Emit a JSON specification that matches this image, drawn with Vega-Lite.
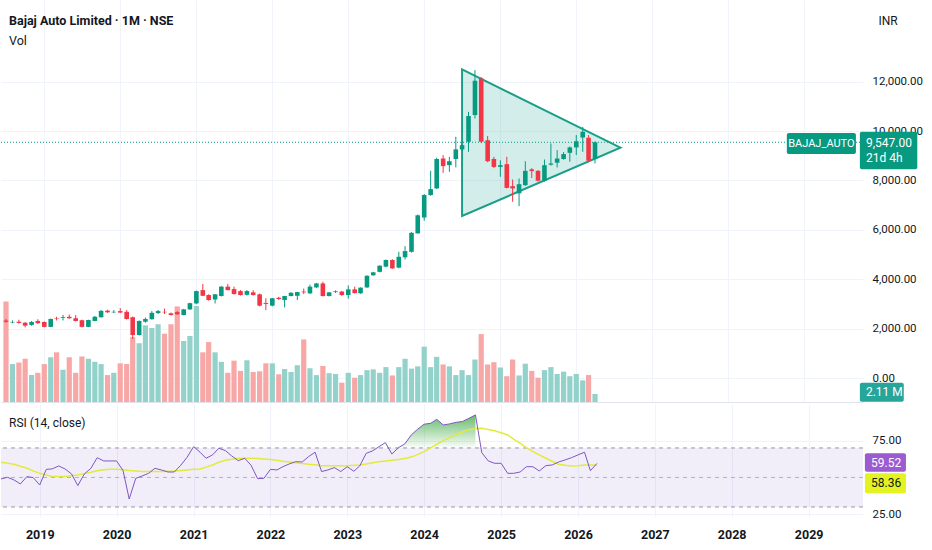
{
"$schema":"https://vega.github.io/schema/vega-lite/v6.json",
"padding":0,
"background":"#ffffff",
"spacing":2,
"datasets":{
"bars":[
{"d":"2018-07-01","o":2330,"h":2390,"l":2230,"c":2280,"v":26.5,"rsi":49.0,"ma":60.3},
{"d":"2018-08-01","o":2250,"h":2330,"l":2220,"c":2270,"v":10.0,"rsi":50.1,"ma":59.6},
{"d":"2018-09-01","o":2280,"h":2360,"l":2200,"c":2230,"v":10.4,"rsi":48.3,"ma":58.9},
{"d":"2018-10-01","o":2240,"h":2260,"l":2050,"c":2120,"v":11.4,"rsi":45.6,"ma":57.6},
{"d":"2018-11-01","o":2150,"h":2310,"l":2120,"c":2270,"v":7.1,"rsi":50.6,"ma":56.2},
{"d":"2018-12-01","o":2310,"h":2380,"l":2190,"c":2220,"v":7.7,"rsi":49.9,"ma":54.5},
{"d":"2019-01-01","o":2270,"h":2290,"l":2050,"c":2070,"v":10.0,"rsi":44.9,"ma":52.8},
{"d":"2019-02-01","o":2070,"h":2410,"l":2060,"c":2390,"v":11.8,"rsi":55.5,"ma":51.7},
{"d":"2019-03-01","o":2420,"h":2480,"l":2330,"c":2400,"v":13.1,"rsi":55.8,"ma":50.6},
{"d":"2019-04-01","o":2430,"h":2550,"l":2330,"c":2460,"v":8.5,"rsi":57.8,"ma":50.6},
{"d":"2019-05-01","o":2480,"h":2570,"l":2400,"c":2420,"v":11.8,"rsi":55.8,"ma":50.6},
{"d":"2019-06-01","o":2420,"h":2550,"l":2290,"c":2310,"v":7.7,"rsi":52.4,"ma":51.1},
{"d":"2019-07-01","o":2340,"h":2360,"l":2050,"c":2070,"v":12.0,"rsi":44.5,"ma":51.7},
{"d":"2019-08-01","o":2070,"h":2360,"l":2060,"c":2350,"v":11.4,"rsi":52.4,"ma":52.6},
{"d":"2019-09-01","o":2310,"h":2510,"l":2300,"c":2480,"v":10.6,"rsi":56.2,"ma":53.5},
{"d":"2019-10-01","o":2460,"h":2750,"l":2450,"c":2720,"v":10.0,"rsi":63.4,"ma":54.5},
{"d":"2019-11-01","o":2730,"h":2760,"l":2640,"c":2660,"v":7.1,"rsi":61.2,"ma":55.3},
{"d":"2019-12-01","o":2660,"h":2750,"l":2630,"c":2680,"v":7.7,"rsi":61.2,"ma":55.5},
{"d":"2020-01-01","o":2710,"h":2830,"l":2630,"c":2650,"v":10.2,"rsi":61.2,"ma":55.5},
{"d":"2020-02-01","o":2680,"h":2750,"l":2370,"c":2390,"v":10.0,"rsi":54.6,"ma":55.3},
{"d":"2020-03-01","o":2460,"h":2490,"l":1580,"c":1740,"v":17.1,"rsi":35.4,"ma":54.8},
{"d":"2020-04-01","o":1740,"h":2330,"l":1720,"c":2310,"v":15.5,"rsi":49.4,"ma":54.4},
{"d":"2020-05-01","o":2280,"h":2450,"l":2240,"c":2390,"v":20.2,"rsi":51.0,"ma":54.1},
{"d":"2020-06-01","o":2380,"h":2710,"l":2370,"c":2640,"v":19.5,"rsi":52.8,"ma":54.0},
{"d":"2020-07-01","o":2630,"h":2760,"l":2590,"c":2710,"v":20.5,"rsi":56.2,"ma":54.0},
{"d":"2020-08-01","o":2680,"h":2810,"l":2590,"c":2660,"v":18.0,"rsi":55.1,"ma":54.0},
{"d":"2020-09-01","o":2620,"h":2650,"l":2530,"c":2550,"v":20.5,"rsi":53.7,"ma":54.2},
{"d":"2020-10-01","o":2670,"h":2710,"l":2560,"c":2580,"v":25.2,"rsi":53.7,"ma":54.4},
{"d":"2020-11-01","o":2550,"h":2800,"l":2540,"c":2780,"v":16.1,"rsi":58.3,"ma":54.8},
{"d":"2020-12-01","o":2780,"h":3050,"l":2760,"c":3030,"v":17.4,"rsi":63.7,"ma":55.1},
{"d":"2021-01-01","o":3020,"h":3540,"l":2990,"c":3520,"v":25.3,"rsi":70.9,"ma":55.5},
{"d":"2021-02-01","o":3560,"h":3810,"l":3320,"c":3330,"v":13.1,"rsi":67.1,"ma":55.8},
{"d":"2021-03-01","o":3360,"h":3390,"l":3130,"c":3160,"v":15.8,"rsi":63.0,"ma":57.0},
{"d":"2021-04-01","o":3180,"h":3400,"l":3020,"c":3390,"v":13.1,"rsi":65.3,"ma":58.5},
{"d":"2021-05-01","o":3320,"h":3720,"l":3300,"c":3700,"v":10.6,"rsi":69.8,"ma":60.3},
{"d":"2021-06-01","o":3700,"h":3810,"l":3550,"c":3560,"v":7.7,"rsi":68.2,"ma":61.7},
{"d":"2021-07-01","o":3600,"h":3700,"l":3380,"c":3400,"v":10.9,"rsi":64.6,"ma":62.4},
{"d":"2021-08-01","o":3520,"h":3560,"l":3340,"c":3360,"v":8.2,"rsi":61.4,"ma":63.0},
{"d":"2021-09-01","o":3370,"h":3560,"l":3340,"c":3520,"v":11.0,"rsi":63.0,"ma":63.0},
{"d":"2021-10-01","o":3470,"h":3560,"l":3340,"c":3360,"v":7.9,"rsi":58.3,"ma":63.0},
{"d":"2021-11-01","o":3390,"h":3420,"l":2900,"c":2930,"v":8.1,"rsi":49.2,"ma":62.9},
{"d":"2021-12-01","o":3040,"h":3230,"l":2750,"c":3000,"v":10.2,"rsi":49.4,"ma":62.6},
{"d":"2022-01-01","o":2930,"h":3240,"l":2900,"c":3230,"v":10.2,"rsi":55.5,"ma":62.2},
{"d":"2022-02-01","o":3250,"h":3290,"l":3160,"c":3200,"v":7.3,"rsi":55.1,"ma":61.6},
{"d":"2022-03-01","o":3160,"h":3330,"l":2860,"c":3320,"v":8.7,"rsi":57.3,"ma":61.0},
{"d":"2022-04-01","o":3320,"h":3480,"l":3300,"c":3450,"v":7.9,"rsi":59.2,"ma":60.5},
{"d":"2022-05-01","o":3330,"h":3490,"l":3160,"c":3480,"v":9.7,"rsi":60.7,"ma":60.0},
{"d":"2022-06-01","o":3500,"h":3620,"l":3400,"c":3470,"v":16.5,"rsi":60.5,"ma":59.5},
{"d":"2022-07-01","o":3430,"h":3780,"l":3400,"c":3700,"v":8.9,"rsi":64.1,"ma":59.0},
{"d":"2022-08-01","o":3670,"h":3850,"l":3640,"c":3830,"v":7.1,"rsi":67.1,"ma":58.6},
{"d":"2022-09-01","o":3830,"h":3900,"l":3300,"c":3320,"v":9.5,"rsi":54.0,"ma":58.0},
{"d":"2022-10-01","o":3320,"h":3480,"l":3300,"c":3470,"v":7.6,"rsi":55.1,"ma":58.0},
{"d":"2022-11-01","o":3480,"h":3550,"l":3440,"c":3510,"v":7.4,"rsi":56.7,"ma":58.0},
{"d":"2022-12-01","o":3500,"h":3530,"l":3330,"c":3360,"v":5.1,"rsi":54.0,"ma":58.0},
{"d":"2023-01-01","o":3360,"h":3750,"l":3210,"c":3590,"v":7.7,"rsi":57.3,"ma":58.0},
{"d":"2023-02-01","o":3590,"h":3700,"l":3420,"c":3440,"v":6.4,"rsi":54.2,"ma":58.2},
{"d":"2023-03-01","o":3430,"h":3670,"l":3410,"c":3660,"v":7.1,"rsi":57.8,"ma":58.5},
{"d":"2023-04-01","o":3670,"h":4160,"l":3650,"c":4140,"v":8.4,"rsi":66.4,"ma":59.2},
{"d":"2023-05-01","o":4160,"h":4300,"l":4140,"c":4280,"v":8.6,"rsi":68.0,"ma":60.0},
{"d":"2023-06-01","o":4300,"h":4560,"l":4280,"c":4550,"v":7.7,"rsi":70.9,"ma":60.6},
{"d":"2023-07-01","o":4510,"h":4800,"l":4480,"c":4780,"v":9.2,"rsi":73.6,"ma":61.2},
{"d":"2023-08-01","o":4780,"h":4810,"l":4420,"c":4440,"v":7.0,"rsi":65.9,"ma":61.7},
{"d":"2023-09-01","o":4470,"h":5110,"l":4440,"c":4910,"v":9.2,"rsi":70.2,"ma":62.2,"ob":70.2},
{"d":"2023-10-01","o":4890,"h":5340,"l":4800,"c":5140,"v":11.4,"rsi":72.7,"ma":62.9,"ob":72.7},
{"d":"2023-11-01","o":5110,"h":5910,"l":5080,"c":5880,"v":8.8,"rsi":78.8,"ma":63.8,"ob":78.8},
{"d":"2023-12-01","o":5860,"h":6620,"l":5840,"c":6590,"v":9.4,"rsi":82.7,"ma":65.5,"ob":82.7},
{"d":"2024-01-01","o":6500,"h":7450,"l":6370,"c":7410,"v":14.6,"rsi":86.1,"ma":67.5,"ob":86.1},
{"d":"2024-02-01","o":7410,"h":8390,"l":7380,"c":7650,"v":9.2,"rsi":86.7,"ma":70.0,"ob":86.7},
{"d":"2024-03-01","o":7680,"h":8920,"l":7650,"c":8870,"v":11.9,"rsi":89.4,"ma":72.5,"ob":89.4},
{"d":"2024-04-01","o":8890,"h":9030,"l":8310,"c":8580,"v":9.9,"rsi":85.6,"ma":75.0,"ob":85.6},
{"d":"2024-05-01","o":8620,"h":8960,"l":8350,"c":8780,"v":9.4,"rsi":86.3,"ma":77.0,"ob":86.3},
{"d":"2024-06-01","o":8870,"h":9770,"l":8530,"c":9260,"v":7.1,"rsi":87.4,"ma":79.0,"ob":87.4},
{"d":"2024-07-01","o":9260,"h":9480,"l":9200,"c":9430,"v":8.4,"rsi":87.9,"ma":80.8,"ob":87.9},
{"d":"2024-08-01","o":9570,"h":10780,"l":9160,"c":10610,"v":7.1,"rsi":90.1,"ma":82.4,"ob":90.1},
{"d":"2024-09-01","o":10650,"h":12470,"l":10510,"c":12040,"v":11.2,"rsi":92.4,"ma":83.2,"ob":92.4},
{"d":"2024-10-01","o":12130,"h":12190,"l":9510,"c":9570,"v":17.9,"rsi":66.8,"ma":83.3},
{"d":"2024-11-01","o":9630,"h":9800,"l":8740,"c":8780,"v":9.9,"rsi":61.2,"ma":82.5},
{"d":"2024-12-01","o":8870,"h":8960,"l":8500,"c":8550,"v":10.5,"rsi":59.6,"ma":81.6},
{"d":"2025-01-01","o":8550,"h":8820,"l":8150,"c":8620,"v":9.1,"rsi":59.6,"ma":80.3},
{"d":"2025-02-01","o":8660,"h":8960,"l":7680,"c":7700,"v":6.8,"rsi":52.8,"ma":78.8},
{"d":"2025-03-01","o":7770,"h":8040,"l":7140,"c":7680,"v":11.2,"rsi":52.8,"ma":76.0},
{"d":"2025-04-01","o":7480,"h":8080,"l":6960,"c":7850,"v":7.0,"rsi":53.7,"ma":73.2},
{"d":"2025-05-01","o":7810,"h":8780,"l":7780,"c":8390,"v":10.1,"rsi":57.3,"ma":70.3},
{"d":"2025-06-01","o":8450,"h":8500,"l":8100,"c":8380,"v":8.2,"rsi":57.3,"ma":67.5},
{"d":"2025-07-01","o":8390,"h":8420,"l":7950,"c":7990,"v":6.4,"rsi":54.4,"ma":65.3},
{"d":"2025-08-01","o":7990,"h":8850,"l":7960,"c":8620,"v":8.4,"rsi":58.0,"ma":63.0},
{"d":"2025-09-01","o":8640,"h":9500,"l":8600,"c":8690,"v":9.2,"rsi":58.5,"ma":61.0},
{"d":"2025-10-01","o":8720,"h":9230,"l":8530,"c":8890,"v":7.4,"rsi":60.5,"ma":59.0},
{"d":"2025-11-01","o":8870,"h":9150,"l":8840,"c":9070,"v":8.0,"rsi":61.9,"ma":58.3},
{"d":"2025-12-01","o":9120,"h":9380,"l":8760,"c":9340,"v":6.8,"rsi":63.4,"ma":57.8},
{"d":"2026-01-01","o":9340,"h":9840,"l":9030,"c":9590,"v":7.4,"rsi":65.3,"ma":58.0},
{"d":"2026-02-01","o":9740,"h":10170,"l":9160,"c":9970,"v":5.7,"rsi":67.1,"ma":58.5},
{"d":"2026-03-01","o":9730,"h":9840,"l":8760,"c":8800,"v":7.1,"rsi":54.6,"ma":58.5},
{"d":"2026-04-01","o":8870,"h":9580,"l":8690,"c":9547,"v":2.11,"rsi":59.52,"ma":58.36}
],
"tri":[{"d":"2024-07-01","top":12500,"bot":6560},{"d":"2026-08-01","top":9330,"bot":9330}],
"one":[{}]
},
"vconcat":[
{
"width":862,"height":402,
"title":{"text":"Bajaj Auto Limited · 1M · NSE","subtitle":"Vol","anchor":"start","frame":"group","offset":-47,"dx":8,"fontSize":12.5,"fontWeight":"bold","color":"#131722","subtitleFontSize":12.5,"subtitleColor":"#131722","subtitlePadding":7,"font":"Roboto","subtitleFont":"Roboto"},
"layer":[
{"data":{"name":"bars"},
"mark":{"type":"bar","width":5.2,"clip":true},
"encoding":{
"x":{"field":"d","type":"temporal","scale":{"type":"utc","domain":[{"year":2018,"month":7,"date":1,"utc":true},{"year":2029,"month":9,"date":16,"utc":true}]},
"axis":{"labels":false,"ticks":false,"domain":true,"domainColor":"#e0e3eb","grid":true,"gridColor":"#f0f3fa","title":null,
"values":[{"year":2019,"month":1,"date":1,"utc":true},{"year":2020,"month":1,"date":1,"utc":true},{"year":2021,"month":1,"date":1,"utc":true},{"year":2022,"month":1,"date":1,"utc":true},{"year":2023,"month":1,"date":1,"utc":true},{"year":2024,"month":1,"date":1,"utc":true},{"year":2025,"month":1,"date":1,"utc":true},{"year":2026,"month":1,"date":1,"utc":true},{"year":2027,"month":1,"date":1,"utc":true},{"year":2028,"month":1,"date":1,"utc":true},{"year":2029,"month":1,"date":1,"utc":true}]}},
"y":{"field":"v","type":"quantitative","scale":{"domain":[0,106],"nice":false},"axis":null},
"color":{"condition":{"test":"datum.c >= datum.o","value":"#93d2ca"},"value":"#f7a7a5"}
}},
{"layer":[
{"data":{"name":"tri"},
"mark":{"type":"area","fill":"#22ab94","fillOpacity":0.2,"stroke":"#1a9e87","strokeWidth":2},
"encoding":{
"x":{"field":"d","type":"temporal"},
"y":{"field":"top","type":"quantitative","scale":{"domain":[-972,15310],"nice":false,"zero":false},"axis":{"orient":"right","values":[0,2000,4000,6000,8000,10000,12000],"format":",.2f","grid":true,"gridColor":"#f0f3fa","domain":false,"ticks":false,"labelPadding":9,"minExtent":70,"maxExtent":70,"title":"INR","titleAngle":0,"titleAlign":"left","titleBaseline":"alphabetic","titleX":15,"titleY":24,"titleFontWeight":"normal","titleFontSize":12,"titleColor":"#131722","titleFont":"Roboto"}},
"y2":{"field":"bot"}
}},
{"data":{"name":"one"},
"mark":{"type":"rule","color":"#089981","strokeDash":[1,2],"strokeWidth":1},
"encoding":{"y":{"datum":9547,"type":"quantitative","scale":{"domain":[-972,15310],"nice":false,"zero":false}}}},
{"data":{"name":"bars"},
"mark":{"type":"rule","strokeWidth":1,"clip":true},
"encoding":{
"x":{"field":"d","type":"temporal"},
"y":{"field":"l","type":"quantitative","scale":{"domain":[-972,15310],"nice":false,"zero":false}},
"y2":{"field":"h"},
"color":{"condition":{"test":"datum.c >= datum.o","value":"#089981"},"value":"#f23645"}
}},
{"data":{"name":"bars"},
"mark":{"type":"bar","width":4.6,"clip":true},
"encoding":{
"x":{"field":"d","type":"temporal"},
"y":{"field":"o","type":"quantitative","scale":{"domain":[-972,15310],"nice":false,"zero":false}},
"y2":{"field":"c"},
"color":{"condition":{"test":"datum.c >= datum.o","value":"#089981"},"value":"#f23645"}
}},
{"data":{"name":"one"},
"mark":{"type":"rect","color":"#089981","cornerRadius":2,"clip":false},
"encoding":{
"x":{"datum":{"year":2028,"month":10,"date":9,"utc":true},"type":"temporal"},
"x2":{"datum":{"year":2029,"month":9,"date":6,"utc":true}},
"y":{"datum":9919,"type":"quantitative"},
"y2":{"datum":9069}
}},
{"data":{"name":"one"},
"mark":{"type":"text","text":"BAJAJ_AUTO","color":"#ffffff","align":"center","baseline":"middle","fontSize":11,"font":"Roboto","clip":false},
"encoding":{
"x":{"datum":{"year":2029,"month":3,"date":24,"utc":true},"type":"temporal"},
"y":{"datum":9494,"type":"quantitative"}
}},
{"data":{"name":"one"},
"mark":{"type":"rect","color":"#089981","cornerRadius":2,"clip":false},
"encoding":{
"x":{"datum":{"year":2029,"month":9,"date":25,"utc":true},"type":"temporal"},
"x2":{"datum":{"year":2030,"month":6,"date":28,"utc":true}},
"y":{"datum":9972,"type":"quantitative"},
"y2":{"datum":8450}
}},
{"data":{"name":"one"},
"mark":{"type":"text","text":"9,547.00","color":"#ffffff","align":"left","baseline":"middle","fontSize":12,"font":"Roboto","clip":false},
"encoding":{
"x":{"datum":{"year":2029,"month":10,"date":24,"utc":true},"type":"temporal"},
"y":{"datum":9514,"type":"quantitative"}
}},
{"data":{"name":"one"},
"mark":{"type":"text","text":"21d 4h","color":"#ffffff","align":"left","baseline":"middle","fontSize":12,"font":"Roboto","clip":false},
"encoding":{
"x":{"datum":{"year":2029,"month":10,"date":24,"utc":true},"type":"temporal"},
"y":{"datum":8907,"type":"quantitative"}
}},
{"data":{"name":"one"},
"mark":{"type":"rect","color":"#26a69a","cornerRadius":2,"clip":false},
"encoding":{
"x":{"datum":{"year":2029,"month":9,"date":25,"utc":true},"type":"temporal"},
"x2":{"datum":{"year":2030,"month":4,"date":24,"utc":true}},
"y":{"datum":-190,"type":"quantitative"},
"y2":{"datum":-960}
}},
{"data":{"name":"one"},
"mark":{"type":"text","text":"2.11 M","color":"#ffffff","align":"left","baseline":"middle","fontSize":12,"font":"Roboto","clip":false},
"encoding":{
"x":{"datum":{"year":2029,"month":10,"date":24,"utc":true},"type":"temporal"},
"y":{"datum":-567,"type":"quantitative"}
}}
]}
],
"resolve":{"scale":{"y":"independent"}}
},
{
"width":862,"height":113,
"title":{"text":"RSI (14, close)","anchor":"start","frame":"group","offset":-26,"dx":8,"fontSize":12,"fontWeight":"normal","color":"#131722","font":"Roboto"},
"layer":[
{"data":{"name":"bars"},
"mark":{"type":"line","color":"#7e57c2","strokeWidth":0,"opacity":0},
"encoding":{
"x":{"field":"d","type":"temporal","scale":{"type":"utc","domain":[{"year":2018,"month":7,"date":1,"utc":true},{"year":2029,"month":9,"date":16,"utc":true}]},
"axis":{"format":"%Y","formatType":"utc","labelFontWeight":"bold","labelFontSize":12.5,"labelPadding":11,"grid":true,"gridColor":"#f0f3fa","domain":false,"ticks":false,"title":null,
"values":[{"year":2019,"month":1,"date":1,"utc":true},{"year":2020,"month":1,"date":1,"utc":true},{"year":2021,"month":1,"date":1,"utc":true},{"year":2022,"month":1,"date":1,"utc":true},{"year":2023,"month":1,"date":1,"utc":true},{"year":2024,"month":1,"date":1,"utc":true},{"year":2025,"month":1,"date":1,"utc":true},{"year":2026,"month":1,"date":1,"utc":true},{"year":2027,"month":1,"date":1,"utc":true},{"year":2028,"month":1,"date":1,"utc":true},{"year":2029,"month":1,"date":1,"utc":true}]}},
"y":{"field":"rsi","type":"quantitative","scale":{"domain":[23.2,99.8],"nice":false,"zero":false},
"axis":{"orient":"right","values":[25,75],"format":".2f","grid":true,"gridColor":"#f0f3fa","domain":false,"ticks":false,"labelPadding":9,"minExtent":70,"maxExtent":70,"title":null}}
}},
{"data":{"name":"one"},
"mark":{"type":"rect","color":"#7e57c2","opacity":0.1},
"encoding":{"y":{"datum":70,"type":"quantitative"},"y2":{"datum":30}}},
{"data":{"name":"one"},
"mark":{"type":"rule","color":"#9598a1","strokeDash":[4,4],"strokeWidth":1},
"encoding":{"y":{"datum":70,"type":"quantitative"}}},
{"data":{"name":"one"},
"mark":{"type":"rule","color":"#9598a1","strokeDash":[4,4],"strokeWidth":1,"opacity":0.7},
"encoding":{"y":{"datum":50,"type":"quantitative"}}},
{"data":{"name":"one"},
"mark":{"type":"rule","color":"#9598a1","strokeDash":[4,4],"strokeWidth":1},
"encoding":{"y":{"datum":30,"type":"quantitative"}}},
{"data":{"name":"bars"},
"transform":[{"filter":"isValid(datum.ob)"}],
"mark":{"type":"area","clip":true,"color":{"gradient":"linear","x1":0,"y1":0,"x2":0,"y2":1,"stops":[{"offset":0,"color":"rgba(76,175,80,0.85)"},{"offset":1,"color":"rgba(76,175,80,0.02)"}]}},
"encoding":{
"x":{"field":"d","type":"temporal"},
"y":{"field":"ob","type":"quantitative"},
"y2":{"datum":70}
}},
{"data":{"name":"bars"},
"mark":{"type":"line","color":"#e2ea3a","strokeWidth":1.5,"clip":true},
"encoding":{
"x":{"field":"d","type":"temporal"},
"y":{"field":"ma","type":"quantitative"}
}},
{"data":{"name":"bars"},
"mark":{"type":"line","color":"#7e57c2","strokeWidth":1,"clip":true},
"encoding":{
"x":{"field":"d","type":"temporal"},
"y":{"field":"rsi","type":"quantitative"}
}},
{"data":{"name":"one"},
"mark":{"type":"rect","color":"#9c5bd1","cornerRadius":2,"clip":false},
"encoding":{
"x":{"datum":{"year":2029,"month":9,"date":25,"utc":true},"type":"temporal"},
"x2":{"datum":{"year":2030,"month":4,"date":8,"utc":true}},
"y":{"datum":66.4,"type":"quantitative"},
"y2":{"datum":53.9}
}},
{"data":{"name":"one"},
"mark":{"type":"text","text":"59.52","color":"#ffffff","align":"left","baseline":"middle","fontSize":12,"font":"Roboto","clip":false},
"encoding":{
"x":{"datum":{"year":2029,"month":10,"date":24,"utc":true},"type":"temporal"},
"y":{"datum":59.9,"type":"quantitative"}
}},
{"data":{"name":"one"},
"mark":{"type":"rect","color":"#e2f31f","cornerRadius":2,"clip":false},
"encoding":{
"x":{"datum":{"year":2029,"month":9,"date":25,"utc":true},"type":"temporal"},
"x2":{"datum":{"year":2030,"month":4,"date":8,"utc":true}},
"y":{"datum":52.8,"type":"quantitative"},
"y2":{"datum":39.3}
}},
{"data":{"name":"one"},
"mark":{"type":"text","text":"58.36","color":"#131722","align":"left","baseline":"middle","fontSize":12,"font":"Roboto","clip":false},
"encoding":{
"x":{"datum":{"year":2029,"month":10,"date":24,"utc":true},"type":"temporal"},
"y":{"datum":46.2,"type":"quantitative"}
}}
]
}
],
"config":{
"view":{"stroke":null},
"font":"Roboto",
"axis":{"labelFont":"Roboto","labelFontSize":11.5,"labelColor":"#131722","domain":false,"ticks":false}
}
}
